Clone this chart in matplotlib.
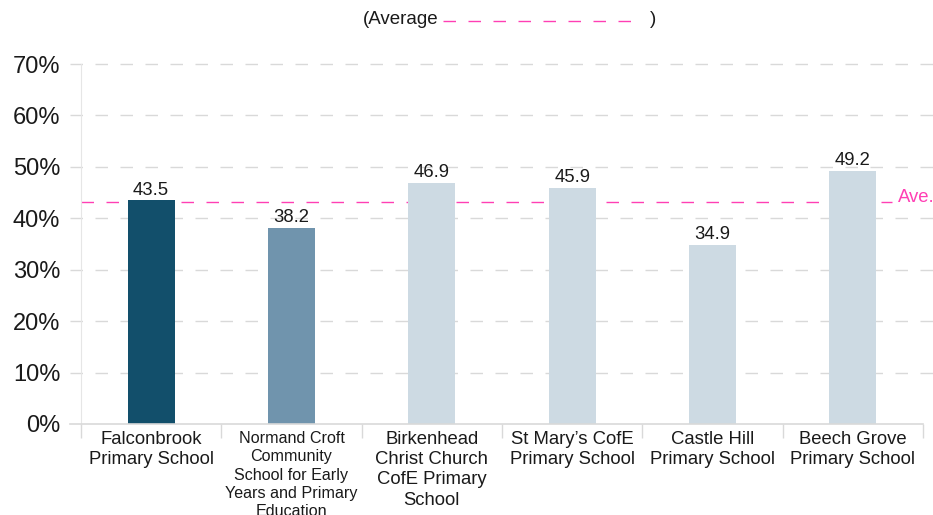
import numpy as np
import matplotlib
matplotlib.use("Agg")
import matplotlib.pyplot as plt
from matplotlib.lines import Line2D

plt.rcParams['font.family'] = ['Liberation Sans', 'DejaVu Sans']

schools = ["Falconbrook\nPrimary School",
           "Normand Croft\nCommunity\nSchool for Early\nYears and Primary\nEducation",
           "Birkenhead\nChrist Church\nCofE Primary\nSchool",
           "St Mary\u2019s CofE\nPrimary School",
           "Castle Hill\nPrimary School",
           "Beech Grove\nPrimary School"]
values = [43.5, 38.2, 46.9, 45.9, 34.9, 49.2]
colors = ["#124f6b", "#7094ad", "#cddae3", "#cddae3", "#cddae3", "#cddae3"]
average = 43.2
yticks = [0, 10, 20, 30, 40, 50, 60, 70]

W, H = 933, 515
fig = plt.figure(figsize=(W / 100, H / 100), dpi=100)
ax = fig.add_axes([81 / W, 1 - 424 / H, (923 - 81) / W, (424 - 64) / H])

x = np.arange(len(values))
ax.bar(x, values, width=0.335, color=colors, zorder=3)
for xi, v in zip(x, values):
    ax.text(xi, v + 0.3, "%.1f" % v, ha="center", va="bottom", fontsize=13.3, color="#1a1a1a")

ax.set_xlim(-0.5, len(values) - 0.5)
ax.set_ylim(0, 70)
ax.set_yticks(yticks)
ax.set_yticklabels(["%d%%" % t for t in yticks], fontsize=17, color="#1a1a1a")
ax.tick_params(axis="y", length=0, pad=15)

# grid lines (dashed, reaching slightly left of the axis)
for t in yticks[1:]:
    ax.add_line(Line2D([-0.58, len(values) - 0.42], [t, t], color="#d9d9d9", lw=1,
                       dashes=(9, 9), clip_on=False, zorder=1))
ax.add_line(Line2D([-0.58, len(values) - 0.5], [0, 0], color="#d9d9d9", lw=1.2,
                   clip_on=False, zorder=4))

# average line
ax.add_line(Line2D([-0.5, 5.28], [average, average], color="#ff3fb4", lw=1,
                   dashes=(9, 9), clip_on=False, zorder=2))
fig.text(898 / W, 1 - 198 / H, "Ave.", color="#ff3fb4", fontsize=13.3, ha="left", va="center")

ax.set_xticks(x)
ax.set_xticklabels(schools, fontsize=13.3, color="#1a1a1a", linespacing=1.25)
ax.get_xticklabels()[1].set_fontsize(11.6)
ax.get_xticklabels()[1].set_linespacing(1.28)
ax.tick_params(axis="x", length=0, pad=5)
ax.set_xticks(np.arange(len(values) + 1) - 0.5, minor=True)
ax.tick_params(axis="x", which="minor", length=10, color="#d9d9d9", width=1)

for s in ["top", "right", "bottom"]:
    ax.spines[s].set_visible(False)
ax.spines["left"].set_color("#e6e6e6")

# legend-like header
fig.text(438 / W, 1 - 20 / H, "(Average", fontsize=13.5, ha="right", va="center", color="#1a1a1a")
fig.add_artist(Line2D([443 / W, 643 / W], [1 - 21 / H, 1 - 21 / H], color="#ff3fb4", lw=1,
                      dashes=(9, 9), transform=fig.transFigure))
fig.text(650 / W, 1 - 20 / H, ")", fontsize=13.5, ha="left", va="center", color="#1a1a1a")

fig.savefig("out.png", dpi=100)
